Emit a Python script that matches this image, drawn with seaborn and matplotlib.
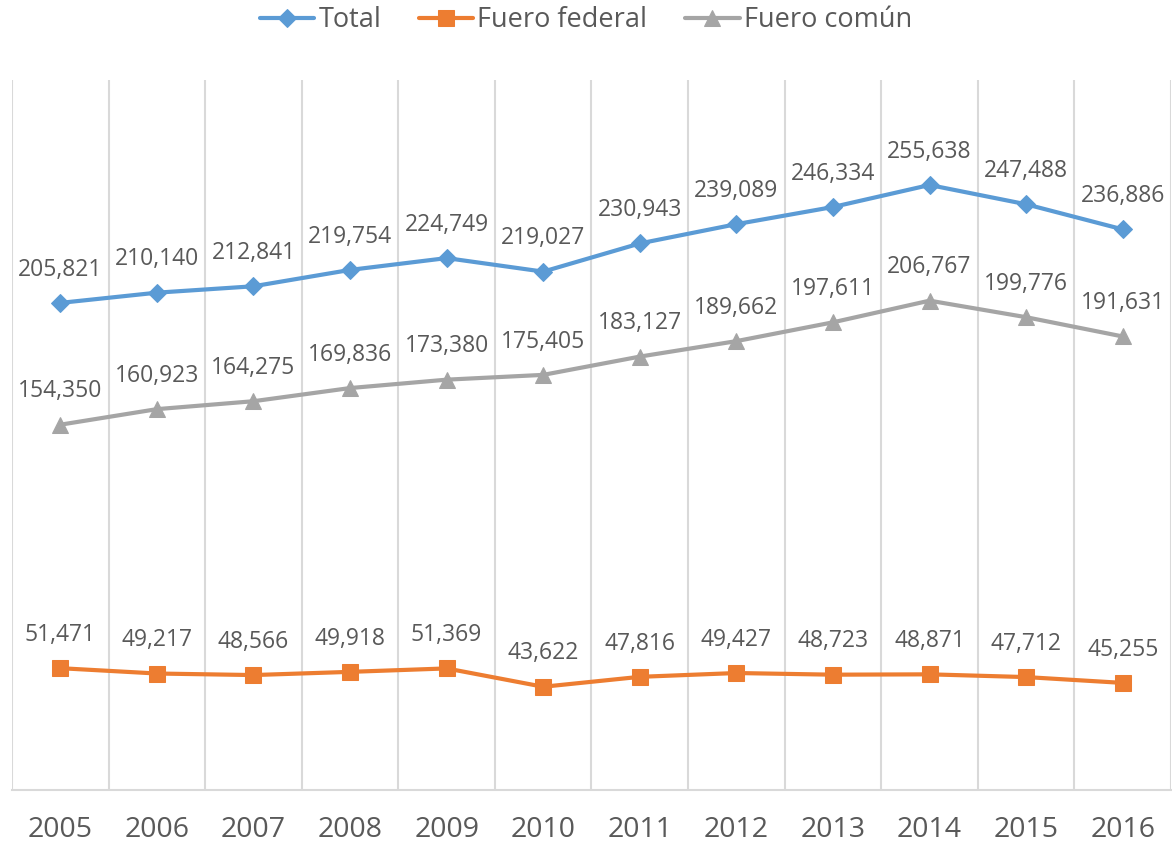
import matplotlib
matplotlib.use("Agg")
import matplotlib.pyplot as plt
import seaborn as sns
import numpy as np
import pandas as pd

years = ["2005", "2006", "2007", "2008", "2009", "2010", "2011", "2012", "2013", "2014", "2015", "2016"]
total = [205821, 210140, 212841, 219754, 224749, 219027, 230943, 239089, 246334, 255638, 247488, 236886]
federal = [51471, 49217, 48566, 49918, 51369, 43622, 47816, 49427, 48723, 48871, 47712, 45255]
comun = [154350, 160923, 164275, 169836, 173380, 175405, 183127, 189662, 197611, 206767, 199776, 191631]

series_names = ["Total", "Fuero federal", "Fuero común"]
series_values = [total, federal, comun]
colors = ["#5B9BD5", "#ED7D31", "#A5A5A5"]
markers = ["D", "s", "^"]
msizes = [9, 11, 11]

sns.set_theme(style="white")
plt.rcParams['font.family'] = ['Open Sans', 'DejaVu Sans']
text_color = "#595959"

fig = plt.figure(figsize=(11.72, 8.47), dpi=100)
ax = fig.add_axes([12/1172, 1 - 790/847, 1 - 12/1172 - 1/1172, (790 - 80)/847])

xpos = np.arange(len(years))
for name, vals, c, m, ms in zip(series_names, series_values, colors, markers, msizes):
    df = pd.DataFrame({"x": xpos, "y": vals})
    sns.lineplot(data=df, x="x", y="y", ax=ax, color=c, marker=m, markersize=ms,
                 markeredgecolor=c, linewidth=3, label=name, zorder=3)
    for xi, v in zip(xpos, vals):
        ax.annotate(f"{v:,}", (xi, v), xytext=(0, 24), textcoords="offset points",
                    ha="center", va="center", fontsize=16.5, color=text_color, zorder=4)

ax.set_xlim(-0.5, len(years) - 0.5)
ax.set_ylim(0, 300000)
ax.set_yticks([])
ax.set_xticks(xpos)
ax.set_xticklabels(years, fontsize=20.5, color=text_color)
ax.tick_params(axis="x", length=0, pad=19)
ax.set_xticks(np.arange(-0.5, len(years), 1), minor=True)
ax.tick_params(axis="x", which="minor", length=0)
ax.grid(True, axis="x", which="minor", color="#D9D9D9", linewidth=1.5)
ax.grid(False, axis="x", which="major")
ax.set_xlabel("")
ax.set_ylabel("")
for s in ["top", "left", "right"]:
    ax.spines[s].set_visible(False)
ax.spines["bottom"].set_color("#D9D9D9")
ax.spines["bottom"].set_linewidth(1.5)

handles, labels = ax.get_legend_handles_labels()
ax.legend_.remove()
leg = fig.legend(handles, labels, loc="center", bbox_to_anchor=(0.5, 1 - 20/847), ncol=3,
                 frameon=False, fontsize=19.5, handlelength=2.0, columnspacing=1.4,
                 handletextpad=0.15, labelcolor=text_color)

fig.savefig("out.png", dpi=100)
